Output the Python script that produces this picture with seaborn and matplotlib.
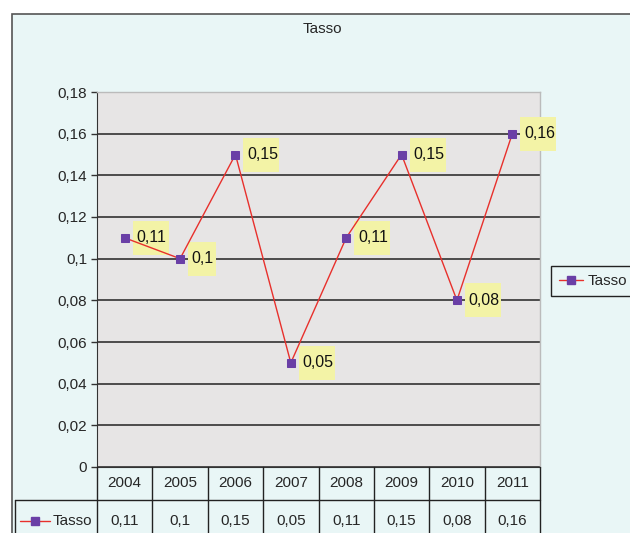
import numpy as np
import pandas as pd
import matplotlib
matplotlib.use('Agg')
import matplotlib.pyplot as plt
from matplotlib.patches import Rectangle
from matplotlib.lines import Line2D
from matplotlib.transforms import ScaledTranslation
import seaborn as sns

anni = ['2004', '2005', '2006', '2007', '2008', '2009', '2010', '2011']
tasso = [0.11, 0.10, 0.15, 0.05, 0.11, 0.15, 0.08, 0.16]
etichette = ['0,11', '0,1', '0,15', '0,05', '0,11', '0,15', '0,08', '0,16']
y_ticks = [0, 0.02, 0.04, 0.06, 0.08, 0.10, 0.12, 0.14, 0.16, 0.18]
y_labels = ['0', '0,02', '0,04', '0,06', '0,08', '0,1', '0,12', '0,14', '0,16', '0,18']

sns.set_style('white')
plt.rcParams['font.family'] = ['Liberation Sans', 'DejaVu Sans']

W, H = 630, 533
ROSSO = '#e8302c'
VIOLA = '#6a3fa6'
GIALLO = '#f3f3a6'
fig = plt.figure(figsize=(6.3, 5.33), dpi=100)
fig.patch.set_facecolor('white')

# cornice esterna del grafico
fig.patches.append(Rectangle((12 / W, -0.1), 1.0, (533 - 14) / H + 0.1, transform=fig.transFigure,
                             facecolor='#e9f6f6', edgecolor='#555555', linewidth=1.2, zorder=-5))

left, right, top, bottom = 97, 540, 92, 467
ax = fig.add_axes([left / W, 1 - bottom / H, (right - left) / W, (bottom - top) / H], zorder=2)
ax.set_facecolor('#e7e5e5')

df = pd.DataFrame({'x': np.arange(len(anni)), 'Tasso': tasso})
sns.lineplot(data=df, x='x', y='Tasso', ax=ax, color=ROSSO, linewidth=1.0,
             marker='s', markersize=5.5, markerfacecolor=VIOLA, markeredgecolor=VIOLA, zorder=7)

# etichette dati con riquadro giallo
for i, (v, lab) in enumerate(zip(tasso, etichette)):
    tr = fig.dpi_scale_trans + ScaledTranslation(i, v, ax.transData)
    larg = 0.36 if len(lab) > 3 else 0.28
    ax.add_patch(Rectangle((0.08, -0.17), larg, 0.34, transform=tr, facecolor=GIALLO,
                           edgecolor='none', zorder=6, clip_on=False))
    ax.annotate(lab, (i, v), xytext=(8.5, 0), textcoords='offset points', ha='left', va='center',
                fontsize=11.5, color='#111111', zorder=8)

ax.set_xlim(-0.5, len(anni) - 0.5)
ax.set_ylim(0, 0.18)
ax.set_yticks(y_ticks)
ax.set_yticklabels(y_labels, fontsize=11)
ax.set_xticks([])
ax.set_xlabel('')
ax.set_ylabel('')
ax.grid(axis='y', color='#222222', linewidth=1.1)
ax.set_axisbelow(True)
ax.tick_params(axis='y', direction='out', length=4, width=1, color='#333333', left=True, pad=3)
for s in ['top', 'right']:
    ax.spines[s].set_color('#bbbbbb')
    ax.spines[s].set_linewidth(1)
ax.spines['left'].set_color('#333333')
ax.spines['bottom'].set_color('#333333')

# titolo
fig.text(322 / W, 1 - 29 / H, 'Tasso', ha='center', va='center', fontsize=11)

# tabella dati
col_w = (right - left) / len(anni)
row1_top, row1_bot, row2_bot = 467, 500, 540
line_kw = dict(color='#222222', linewidth=1.0, transform=fig.transFigure)
fig.lines.append(Line2D([left / W, right / W], [1 - row1_bot / H] * 2, **line_kw))
fig.lines.append(Line2D([15 / W, left / W], [1 - row1_bot / H] * 2, **line_kw))
fig.lines.append(Line2D([15 / W, 15 / W], [1 - row1_bot / H, 1 - row2_bot / H], **line_kw))
for i in range(len(anni) + 1):
    x = (left + i * col_w) / W
    fig.lines.append(Line2D([x, x], [1 - row1_top / H, 1 - row2_bot / H], **line_kw))
for i, (a, lab) in enumerate(zip(anni, etichette)):
    xc = (left + (i + 0.5) * col_w) / W
    fig.text(xc, 1 - 483 / H, a, ha='center', va='center', fontsize=11)
    fig.text(xc, 1 - 521 / H, lab, ha='center', va='center', fontsize=11)

# voce di legenda nella tabella
fig.lines.append(Line2D([20 / W, 35 / W, 50 / W], [1 - 521 / H] * 3, color=ROSSO, linewidth=1.0,
                        marker='s', markersize=5.5, markevery=[1], markerfacecolor=VIOLA,
                        markeredgecolor=VIOLA, transform=fig.transFigure))
fig.text(53 / W, 1 - 521 / H, 'Tasso', ha='left', va='center', fontsize=11)

# legenda a destra
handle = Line2D([], [], color=ROSSO, linewidth=1.0, marker='s', markersize=5.5,
                markerfacecolor=VIOLA, markeredgecolor=VIOLA)
fig.legend([handle], ['Tasso'], loc='center left', bbox_to_anchor=(551 / W, 1 - 281 / H),
           frameon=True, fancybox=False, edgecolor='#222222', facecolor='#e9f6f6',
           fontsize=11, handlelength=1.6, handletextpad=0.3, borderpad=0.5,
           borderaxespad=0, framealpha=1)

fig.savefig('out.png', dpi=100, facecolor=fig.get_facecolor())
